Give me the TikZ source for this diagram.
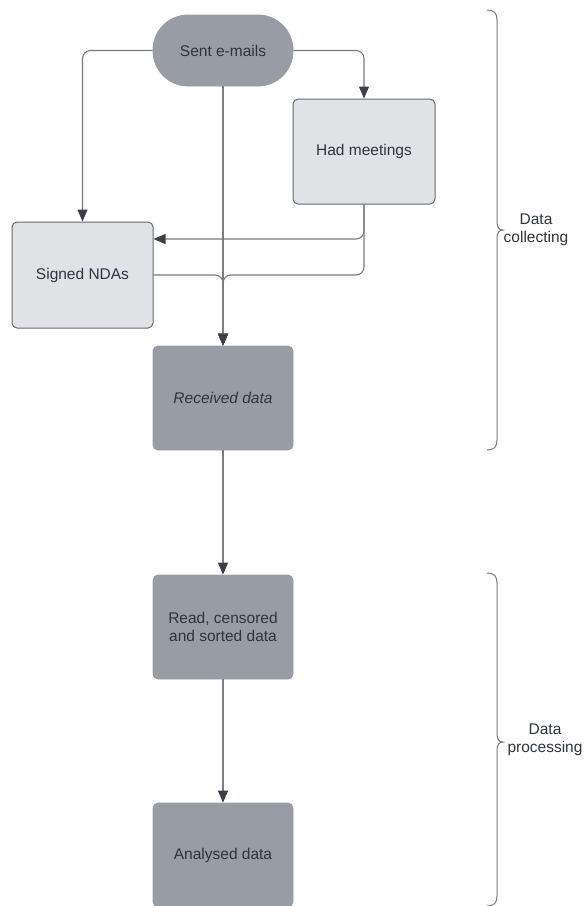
\documentclass[tikz,border=0pt]{standalone}
\usepackage{fontspec}
\setmainfont{Liberation Sans}
\usetikzlibrary{arrows.meta,positioning}

\definecolor{darkfill}{HTML}{979CA5}
\definecolor{lightfill}{HTML}{E0E2E6}
\definecolor{boxedge}{HTML}{66696F}
\definecolor{inkc}{HTML}{2E3440}
\definecolor{linec}{HTML}{797C82}
\definecolor{tipc}{HTML}{3A3F48}

\tikzset{
  basebox/.style={rectangle, rounded corners=5pt, align=center, text=inkc,
    font=\fontsize{15.5}{18}\selectfont, inner sep=0pt},
  darkbox/.style={basebox, fill=darkfill, draw=darkfill, line width=0.8pt},
  lightbox/.style={basebox, fill=lightfill, draw=boxedge, line width=1pt},
  conn/.style={draw=linec, line width=1.1pt, rounded corners=8pt,
    -{Triangle[length=12pt,width=10pt,color=tipc,fill=tipc]}},
  plainconn/.style={draw=linec, line width=1.1pt, rounded corners=8pt},
  bracec/.style={draw=linec, line width=1pt},
  sidelabel/.style={align=center, text=inkc, font=\fontsize{15.5}{18}\selectfont}
}

\begin{document}
\begin{tikzpicture}[x=1pt,y=-1pt]
  \useasboundingbox[fill=white] (0,0) rectangle (586,906);

  % process steps
  \node[darkbox, rounded corners=35pt, minimum width=140pt, minimum height=71pt]
    (sent) at (223,50.5) {Sent e-mails};
  \node[lightbox, minimum width=142pt, minimum height=105pt]
    (meet) at (364,151.5) {Had meetings};
  \node[lightbox, minimum width=141pt, minimum height=106pt]
    (signed) at (82.5,275) {Signed NDAs};
  \node[darkbox, minimum width=140pt, minimum height=104pt]
    (recv) at (223,398) {\itshape Received data};
  \node[darkbox, minimum width=140pt, minimum height=104pt]
    (read) at (223,627) {Read, censored\\and sorted data};
  \node[darkbox, minimum width=140pt, minimum height=104pt]
    (anal) at (223,855) {Analysed data};

  \coordinate (join) at (recv.north |- signed.east);

  % connectors
  \draw[conn] (sent.west) -| (signed.north);
  \draw[conn] (sent.east) -| (meet.north);
  \draw[conn] (meet.south) |- ([yshift=36pt]signed.east);
  \draw[conn] (meet.south) |- (join) -- (recv.north);
  \draw[conn] (signed.east) -- (join) -- (recv.north);
  \draw[conn] (sent.south) -- (recv.north);
  \draw[conn] (recv.south) -- (read.north);
  \draw[conn] (read.south) -- (anal.north);

  % phase braces
  \draw[bracec] (487,10) .. controls (494,10) and (497,13) .. (497,20)
    -- (497,222) .. controls (497,227) and (499,230) .. (503,230)
    .. controls (499,230) and (497,233) .. (497,238)
    -- (497,440) .. controls (497,447) and (494,450) .. (487,450);
  \node[sidelabel] (collect) at (536,230) {Data\\collecting};

  \draw[bracec] (487,573) .. controls (494,573) and (497,576) .. (497,583)
    -- (497,734) .. controls (497,739) and (499,742) .. (503,742)
    .. controls (499,742) and (497,745) .. (497,750)
    -- (497,896) .. controls (497,903) and (494,906) .. (487,906);
  \node[sidelabel] (process) at (545,740) {Data\\processing};
\end{tikzpicture}
\end{document}
